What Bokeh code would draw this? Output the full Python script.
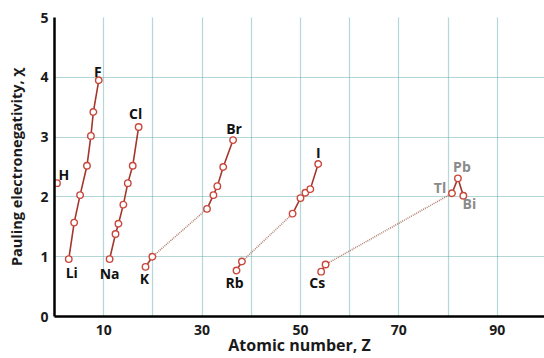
from bokeh.plotting import figure
from bokeh.models import FixedTicker, ColumnDataSource, Range1d
from bokeh.embed import file_html
from bokeh.resources import INLINE
from bokeh.core.properties import value

# ---- data (atomic number position, Pauling electronegativity) ----
h_z = [0.5]
h_chi = [2.23]

p2_z = [2.9, 4.0, 5.2, 6.6, 7.4, 7.9, 9.0]
p2_chi = [0.96, 1.57, 2.03, 2.52, 3.02, 3.42, 3.95]

p3_z = [11.2, 12.4, 13.0, 14.0, 14.9, 15.9, 17.1]
p3_chi = [0.96, 1.38, 1.55, 1.87, 2.23, 2.52, 3.17]

p4s_z = [18.5, 19.9]
p4s_chi = [0.83, 1.00]
p4p_z = [31.0, 32.3, 33.1, 34.3, 36.3]
p4p_chi = [1.80, 2.03, 2.18, 2.50, 2.95]

p5s_z = [37.0, 38.1]
p5s_chi = [0.77, 0.92]
p5p_z = [48.4, 50.0, 51.0, 52.0, 53.6]
p5p_chi = [1.72, 1.98, 2.07, 2.13, 2.55]

p6s_z = [54.2, 55.1]
p6s_chi = [0.75, 0.87]
p6p_z = [80.8, 82.0, 83.1]
p6p_chi = [2.06, 2.31, 2.02]

x_ticks = [10, 30, 50, 70, 90]
y_ticks = [0, 1, 2, 3, 4, 5]
x_title = "Atomic number, Z"
y_title = "Pauling electronegativity, χ"

# labelled elements: symbol, z, chi
lab_sym = ["H", "F", "Cl", "Br", "I", "Li", "Na", "K", "Rb", "Cs", "Tl", "Pb", "Bi"]
lab_z = [h_z[0], p2_z[-1], p3_z[-1], p4p_z[-1], p5p_z[-1], p2_z[0], p3_z[0],
         p4s_z[0], p5s_z[0], p6s_z[0], p6p_z[0], p6p_z[1], p6p_z[2]]
lab_chi = [h_chi[0], p2_chi[-1], p3_chi[-1], p4p_chi[-1], p5p_chi[-1], p2_chi[0], p3_chi[0],
           p4s_chi[0], p5s_chi[0], p6s_chi[0], p6p_chi[0], p6p_chi[1], p6p_chi[2]]

# ---- styling ----
dx = [7, -1, -3, 1, 0, 3, 0, -1, -2, -4, -12, 4, 6]
dy = [-9, -9, -13, -12, -12, 13, 14, 12, 12, 11, -6, -12, 8]
lab_col = ["#111111"] * 10 + ["#8a8a8a"] * 3

FONT = "Open Sans"
LINE = "#a3372b"
MARK = "#c9473b"
DOT = "#b58274"
GRID = "#5aa5a5"

p = figure(width=544, height=358, output_backend="svg", toolbar_location=None,
           x_range=Range1d(0, 99.6), y_range=Range1d(0, 5),
           min_border_left=54, min_border_right=0, min_border_top=17, min_border_bottom=41)
p.outline_line_color = None
p.background_fill_color = "white"
p.border_fill_color = "white"

p.xaxis.ticker = FixedTicker(ticks=x_ticks)
p.yaxis.ticker = FixedTicker(ticks=y_ticks)
p.xgrid.ticker = FixedTicker(ticks=list(range(10, 101, 10)))
p.ygrid.ticker = FixedTicker(ticks=y_ticks[1:])
for g in (p.xgrid, p.ygrid):
    g.grid_line_color = GRID
    g.grid_line_dash = "1 1"
    g.grid_line_width = 1.2
    g.grid_line_alpha = 0.9

for ax in (p.xaxis, p.yaxis):
    ax.axis_line_color = "black"
    ax.axis_line_width = 2.5
    ax.major_tick_line_color = None
    ax.minor_tick_line_color = None
    ax.major_tick_out = 0
    ax.major_tick_in = 0
    ax.minor_tick_out = 0
    ax.minor_tick_in = 0
    ax.major_label_text_font = FONT
    ax.major_label_text_font_style = "bold"
    ax.major_label_text_font_size = "14px"
    ax.major_label_text_color = "#1a1a1a"
    ax.axis_label_text_font = FONT
    ax.axis_label_text_font_style = "bold"
    ax.axis_label_text_color = "#1a1a1a"
p.xaxis.axis_label = x_title
p.yaxis.axis_label = y_title
p.xaxis.axis_label_text_font_size = "16px"
p.yaxis.axis_label_text_font_size = "14.5px"
p.xaxis.major_label_standoff = 8
p.yaxis.major_label_standoff = 6
p.xaxis.axis_label_standoff = -4
p.yaxis.axis_label_standoff = 11

# dotted connectors (transition-metal gaps)
for s_z, s_c, q_z, q_c in [(p4s_z, p4s_chi, p4p_z, p4p_chi),
                           (p5s_z, p5s_chi, p5p_z, p5p_chi),
                           (p6s_z, p6s_chi, p6p_z, p6p_chi)]:
    p.line([s_z[-1], q_z[0]], [s_c[-1], q_c[0]], line_color=DOT, line_width=1.6, line_dash="1 1")

# solid lines
for zz, cc in [(p2_z, p2_chi), (p3_z, p3_chi), (p4s_z, p4s_chi), (p4p_z, p4p_chi),
               (p5s_z, p5s_chi), (p5p_z, p5p_chi), (p6s_z, p6s_chi), (p6p_z, p6p_chi)]:
    p.line(zz, cc, line_color=LINE, line_width=1.6)

# markers
all_z = h_z + p2_z + p3_z + p4s_z + p4p_z + p5s_z + p5p_z + p6s_z + p6p_z
all_c = h_chi + p2_chi + p3_chi + p4s_chi + p4p_chi + p5s_chi + p5p_chi + p6s_chi + p6p_chi
p.scatter(all_z, all_c, marker="circle", size=6.5, fill_color="white",
          line_color=MARK, line_width=1.4)

src = ColumnDataSource(dict(x=lab_z, y=lab_chi, t=lab_sym, dx=dx, dy=dy, c=lab_col))
p.text(x="x", y="y", text="t", x_offset="dx", y_offset="dy", text_color="c", source=src,
       text_font=value(FONT), text_font_style="bold", text_font_size="14px",
       text_align="center", text_baseline="middle")

open("out.html", "w").write(file_html(p, INLINE))
